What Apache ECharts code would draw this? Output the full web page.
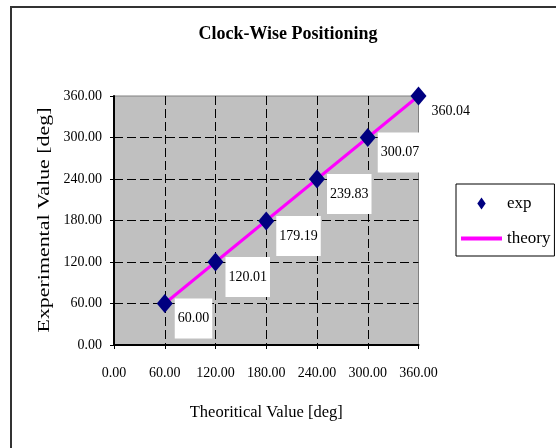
<!DOCTYPE html>
<html>
<head>
<meta charset="utf-8">
<script src="https://cdn.jsdelivr.net/npm/echarts@6/dist/echarts.min.js"></script>
<style>
html,body{margin:0;padding:0;background:#fff;}
#chart{width:556px;height:448px;}
</style>
</head>
<body>
<div id="chart"></div>
<script>
// ---- data ----
const theoretical = [60, 120, 180, 240, 300, 360];
const experimental = [60.00, 120.01, 179.19, 239.83, 300.07, 360.04];
const theory = [60, 120, 180, 240, 300, 360];
const axisTicks = [0, 60, 120, 180, 240, 300, 360];

const titleText = 'Clock-Wise Positioning';
const xTitle = 'Theoritical Value [deg]';
const yTitle = 'Experimental Value [deg]';

const FONT = '"Liberation Serif", "Times New Roman", Times, serif';

// measure y title to stretch it to the reference length
const cv = document.createElement('canvas').getContext('2d');
cv.font = '17px ' + FONT;
const yTitleW = cv.measureText(yTitle).width;
const yScale = 225 / yTitleW;

const chart = echarts.init(document.getElementById('chart'), null, {renderer: 'canvas'});

const expData = theoretical.map((x, i) => [x, experimental[i]]);
const theoryData = theoretical.map((x, i) => [x, theory[i]]);

const option = {
  backgroundColor: '#ffffff',
  animation: false,
  title: {
    text: titleText,
    left: 288,
    top: 25,
    padding: 0,
    textAlign: 'center',
    textStyle: {fontFamily: FONT, fontSize: 18, fontWeight: 'bold', color: '#000'}
  },
  graphic: [
    {
      type: 'rect', silent: true, z: -10,
      shape: {x: 11, y: 7, width: 620, height: 520},
      style: {fill: null, stroke: '#333', lineWidth: 2}
    },
    {
      type: 'text', silent: true,
      x: 45, y: 220, rotation: Math.PI / 2, scaleX: yScale, scaleY: 1,
      style: {text: yTitle, font: '17px ' + FONT, fill: '#000', align: 'center', verticalAlign: 'middle'}
    }
  ],
  legend: {
    orient: 'vertical',
    left: 456,
    top: 184,
    padding: [11, 4, 9, 5],
    itemGap: 18,
    itemWidth: 41,
    itemHeight: 12,
    backgroundColor: '#fff',
    borderColor: '#000',
    borderWidth: 1,
    borderRadius: 0,
    textStyle: {fontFamily: FONT, fontSize: 17, color: '#000'},
    data: [
      {name: 'exp', icon: 'path://M0,-10 L7,0 L0,10 L-7,0 Z', itemStyle: {opacity: 1}},
      {name: 'theory', icon: 'path://M0,0 H41 V4 H0 Z', itemStyle: {color: '#FF00FF', opacity: 1}}
    ]
  },
  grid: {
    left: 114, right: 137.5, top: 96, bottom: 103,
    show: true,
    backgroundColor: '#C0C0C0',
    borderColor: '#808080',
    borderWidth: 1
  },
  xAxis: {
    type: 'value',
    min: axisTicks[0], max: axisTicks[axisTicks.length - 1], interval: 60,
    name: xTitle,
    nameLocation: 'middle',
    nameGap: 59,
    nameTextStyle: {fontFamily: FONT, fontSize: 16.5, color: '#000'},
    axisLine: {show: true, onZero: false, lineStyle: {color: '#000', width: 2}},
    axisTick: {show: true, inside: false, length: 4, lineStyle: {color: '#000'}},
    axisLabel: {
      margin: 21,
      fontFamily: FONT, fontSize: 14, color: '#000',
      formatter: v => v.toFixed(2)
    },
    splitLine: {
      show: true, showMinLine: false, showMaxLine: false,
      lineStyle: {color: '#000', width: 1, type: [9, 4]}
    }
  },
  yAxis: {
    type: 'value',
    min: axisTicks[0], max: axisTicks[axisTicks.length - 1], interval: 60,
    axisLine: {show: true, onZero: false, lineStyle: {color: '#000', width: 2}},
    axisTick: {show: true, inside: false, length: 4, lineStyle: {color: '#000'}},
    axisLabel: {
      margin: 12,
      fontFamily: FONT, fontSize: 14, color: '#000',
      formatter: v => v.toFixed(2)
    },
    splitLine: {
      show: true, showMinLine: false, showMaxLine: false,
      lineStyle: {color: '#000', width: 1, type: [9, 4]}
    }
  },
  series: [
    {
      name: 'theory',
      type: 'line',
      data: theoryData,
      symbol: 'none',
      showSymbol: false,
      z: 2,
      lineStyle: {color: '#FF00FF', width: 3},
      itemStyle: {color: '#FF00FF'},
      silent: true
    },
    {
      name: 'exp',
      type: 'scatter',
      data: expData,
      symbol: 'diamond',
      symbolSize: [16, 19],
      z: 3,
      itemStyle: {color: '#000080', opacity: 1},
      label: {
        show: true,
        position: 'right',
        distance: 2,
        offset: [0, 15],
        backgroundColor: '#fff',
        padding: [9, 3, 17, 3],
        opacity: 1,
        fontFamily: FONT, fontSize: 14, color: '#000',
        formatter: p => p.value[1].toFixed(2)
      }
    }
  ]
};
chart.setOption(option);
</script>
</body>
</html>
